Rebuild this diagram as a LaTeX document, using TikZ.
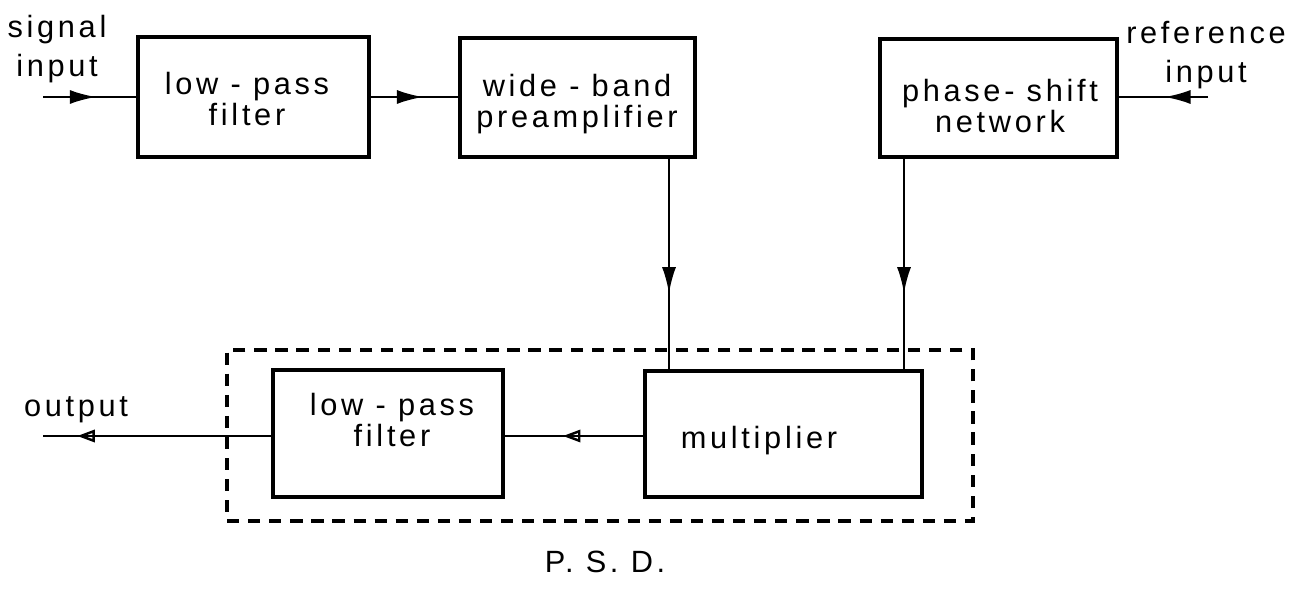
\documentclass[tikz,border=0pt]{standalone}
\usepackage{fontspec}
\setmainfont{Liberation Sans}[LetterSpace=12]
\usetikzlibrary{decorations.markings,arrows.meta,fit}
\begin{document}
\begin{tikzpicture}[x=0.02cm,y=-0.02cm,
  box/.style={draw,line width=1.8pt,inner sep=0pt},
  txt/.style={align=center,anchor=north,font=\fontsize{17.5}{17.5}\selectfont,inner sep=0pt},
  lbl/.style={txt,font=\fontsize{17.5}{22}\selectfont},
  sig/.style={line width=1.5pt},
  fullarrow/.style={sig,postaction={decorate},decoration={markings,
      mark=at position #1 with {\arrow{Latex[length=15pt,width=8pt]}}}},
  openarrow/.style={sig,postaction={decorate},decoration={markings,
      mark=at position #1 with {\arrow{Triangle[open,length=10pt,width=7pt,line width=1.4pt]}}}},
  psdbox/.style={draw,line width=1.8pt,dash pattern=on 7pt off 5pt}]
\useasboundingbox (0,0) rectangle (1298,591);

% processing blocks
\node[box,fit={(138,37) (369,157)}] (lpfa) {};
\node[box,fit={(460,38) (695,157)}] (wbp) {};
\node[box,fit={(880,39) (1117,157)}] (psn) {};
\node[box,fit={(645,371) (922,497)}] (mult) {};
\node[box,fit={(273,370) (503,497)}] (lpfb) {};

% phase-sensitive detector enclosure
\node[psdbox,fit={(227,350) (973,521)},inner sep=0pt] (psd) {};

% block captions
\node[txt] (tlpfa) at (247,72) {low - pass\\filter};
\node[txt] (twbp) at (577,74) {wide - band\\preamplifier};
\node[txt] (tpsn) at (1000,79) {phase- shift\\network};
\node[txt] (tmult) at (759,426) {multiplier};
\node[txt] (tlpfb) at (392,393) {low - pass\\filter};

% terminal labels
\node[lbl] (lsig) at (57,15) {signal\\input};
\node[lbl] (lref) at (1206,21) {reference\\input};
\node[lbl] (lout) at (76,396) {output};
\node[lbl] (lpsd) at (605,551) {P. S. D.};

% free ends and tap positions
\coordinate (sigin) at (43,97);
\coordinate (refin) at (1208,97);
\coordinate (outend) at (43,436);
\coordinate (tapa) at (669,0);
\coordinate (tapb) at (904,0);
\coordinate (rowb) at (0,436);

% signal path
\draw[fullarrow=0.57] (sigin) -- (lpfa.west |- sigin);
\draw[fullarrow=0.6] (lpfa.east |- sigin) -- (wbp.west |- sigin);
\draw[fullarrow=0.49] (refin) -- (psn.east |- refin);
\draw[fullarrow=0.64] (wbp.south -| tapa) -- (mult.north -| tapa);
\draw[fullarrow=0.64] (psn.south -| tapb) -- (mult.north -| tapb);
\draw[openarrow=0.58] (mult.west |- rowb) -- (lpfb.east |- rowb);
\draw[openarrow=0.85] (lpfb.west |- rowb) -- (outend);
\end{tikzpicture}
\end{document}
